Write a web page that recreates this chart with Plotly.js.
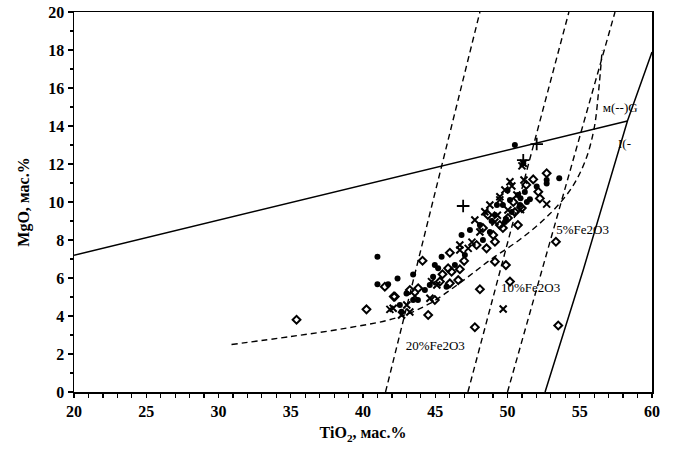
<!DOCTYPE html>
<html>
<head>
<meta charset="utf-8">
<script src="https://cdn.plot.ly/plotly-3.0.1.min.js"></script>
<style>html,body{margin:0;padding:0;background:#fff}#chart{width:676px;height:457px}</style>
</head>
<body>
<div id="chart"></div>
<script>
// Solid reference line
const lineAX = [20, 58.3];
const lineAY = [7.2, 14.26];
// Solid 0% Fe2O3 line
const line0X = [52.6, 55.24, 58.3, 60.0];
const line0Y = [0, 6.42, 14.26, 17.9];
// Dashed Fe2O3 isolines
const line5X = [50.0, 57.44];
const line5Y = [0, 20];
const line10X = [47.26, 54.25];
const line10Y = [0, 20];
const line20X = [41.56, 48.09];
const line20Y = [0, 20];
// Dashed parabola
const paraX = [30.9, 35.0, 39.0, 42.3, 44.6, 46.9, 48.8, 50.9, 52.9, 54.4, 55.4, 56.0, 56.3, 56.55];
const paraY = [2.5, 2.92, 3.38, 3.9, 4.65, 5.85, 6.95, 8.05, 9.35, 10.7, 12.2, 13.9, 15.8, 18.0];

// Filled circles
const dotX = [41.00, 41.00, 41.74, 42.39, 43.47, 45.44, 44.97, 45.20, 44.85, 45.78, 43.01, 43.47, 42.55, 42.67, 46.82, 48.09, 50.51, 51.09, 52.71, 52.71, 53.58, 52.02, 51.55,
  49.13, 49.68, 50.17, 50.72, 50.86, 51.20, 49.82, 48.78, 48.30, 47.40, 50.30, 49.27, 51.34, 47.05, 46.36, 44.28, 43.80, 44.62,
  50.0, 50.9, 49.9, 48.9];
const dotY = [7.12, 5.67, 5.67, 5.98, 6.19, 7.12, 6.68, 6.51, 6.07, 5.54, 5.19, 4.84, 4.58, 4.23, 8.26, 8.79, 13.0, 12.04, 11.16, 10.98, 11.25, 10.81, 10.14,
  9.32, 9.84, 10.11, 10.37, 9.84, 10.53, 8.95, 8.42, 8.0, 8.53, 9.47, 9.84, 10.0, 7.21, 6.68, 5.37, 4.84, 5.63,
  10.6, 10.2, 9.1, 9.0];

// Open diamonds
const diaX = [35.4, 40.24, 41.51, 42.13, 44.12, 46.01, 45.89, 46.13, 46.70, 45.32, 46.01, 46.59, 43.82, 43.24, 42.20, 44.97, 44.51, 47.74, 48.09, 50.17, 53.51, 53.35, 49.13, 49.89,
  51.78, 52.71, 52.13, 52.24, 47.86, 48.55, 49.13, 49.01, 49.47, 50.03, 50.51, 50.99, 48.64, 49.68, 48.30, 50.72,
  45.5, 47.0, 51.3, 50.4];
const diaY = [3.8, 4.35, 5.54, 5.02, 6.91, 7.33, 6.51, 6.33, 6.46, 5.81, 5.72, 5.89, 5.46, 5.37, 5.02, 4.84, 4.05, 3.41, 5.41, 5.81, 3.5, 7.91, 6.86, 6.68,
  11.19, 11.51, 10.54, 10.19, 7.74, 7.56, 7.91, 8.26, 8.79, 9.16, 9.47, 9.68, 9.32, 8.63, 8.63, 8.79,
  6.2, 6.9, 10.9, 10.0];

// Crosses
const crossX = [41.86, 42.09, 42.67, 44.74, 44.63, 46.70, 49.70, 50.17, 51.14, 52.71, 49.47, 48.43, 47.28, 51.09,
  49.47, 49.82, 50.30, 50.65, 49.13, 48.09, 47.54, 46.70, 48.78, 50.03, 47.74, 43.03, 43.59, 43.24, 45.11,
  50.9, 49.3, 51.0];
const crossY = [4.35, 4.41, 4.05, 5.81, 4.93, 7.74, 4.37, 11.07, 11.16, 9.89, 10.28, 9.49, 7.56, 12.04,
  10.11, 10.63, 10.84, 10.37, 8.95, 8.42, 7.89, 7.47, 9.84, 9.58, 9.05, 4.58, 5.05, 4.21, 5.63,
  9.6, 9.3, 11.9];

// Plus signs
const plusX = [46.93, 52.02, 51.09];
const plusY = [9.79, 13.05, 12.2];

// Labels
const labelText = ['5%Fe2O3', '10%Fe2O3', '20%Fe2O3', 'м(--)G', 'I(-'];
const labelX = [55.2, 51.6, 45.0, 57.8, 58.1];
const labelY = [8.5, 5.42, 2.37, 14.9, 13.0];

const serif = 'Liberation Serif, Times New Roman, serif';
const dashed = {color: '#000', width: 1.4, dash: '6px,4px'};

const traces = [
  {x: lineAX, y: lineAY, mode: 'lines', line: {color: '#000', width: 1.5}},
  {x: line0X, y: line0Y, mode: 'lines', line: {color: '#000', width: 1.5}},
  {x: line5X, y: line5Y, mode: 'lines', line: dashed},
  {x: line10X, y: line10Y, mode: 'lines', line: dashed},
  {x: line20X, y: line20Y, mode: 'lines', line: dashed},
  {x: paraX, y: paraY, mode: 'lines', line: Object.assign({}, dashed, {shape: 'spline', smoothing: 1})},
  {x: diaX, y: diaY, mode: 'markers', marker: {symbol: 'diamond-open', size: 6, color: '#000', line: {width: 2, color: '#000'}}},
  {x: dotX, y: dotY, mode: 'markers', marker: {symbol: 'circle', size: 6, color: '#000'}},
  {x: crossX, y: crossY, mode: 'markers', marker: {symbol: 'x-thin', size: 7, color: '#000', line: {width: 2, color: '#000'}}},
  {x: plusX, y: plusY, mode: 'markers', marker: {symbol: 'cross-thin', size: 9, color: '#000', line: {width: 1.8, color: '#000'}}},
  {x: labelX, y: labelY, mode: 'text', text: labelText, textfont: {family: serif, size: 13, color: '#000'}}
];

const layout = {
  width: 676, height: 457,
  margin: {l: 74, r: 24, t: 12, b: 65},
  paper_bgcolor: '#fff', plot_bgcolor: '#fff',
  showlegend: false,
  font: {family: serif, color: '#000'},
  xaxis: {
    range: [20, 60], dtick: 5, tick0: 20,
    showgrid: false, zeroline: false,
    showline: true, mirror: true, linecolor: '#000', linewidth: 1.5,
    ticks: 'outside', ticklen: 4, tickwidth: 1.2, tickcolor: '#000',
    minor: {dtick: 1, ticks: 'outside', ticklen: 4, tickwidth: 1.2, tickcolor: '#000', showgrid: false},
    tickfont: {family: serif, size: 16, color: '#000', weight: 'bold'},
    title: {text: 'TiO<sub>2</sub>, мас.%', font: {family: serif, size: 16, color: '#000', weight: 'bold'}, standoff: 8}
  },
  yaxis: {
    range: [0, 20], dtick: 2, tick0: 0,
    showgrid: false, zeroline: false,
    showline: true, mirror: true, linecolor: '#000', linewidth: 1.5,
    ticks: 'outside', ticklen: 5, tickwidth: 1.2, tickcolor: '#000',
    minor: {dtick: 1, ticks: 'outside', ticklen: 3, tickwidth: 1.2, tickcolor: '#000', showgrid: false},
    tickfont: {family: serif, size: 16, color: '#000', weight: 'bold'},
    title: {text: 'MgO, мас.%', font: {family: serif, size: 16, color: '#000', weight: 'bold'}, standoff: 14}
  }
};

Plotly.newPlot('chart', traces, layout, {displayModeBar: false, staticPlot: true});
</script>
</body>
</html>
